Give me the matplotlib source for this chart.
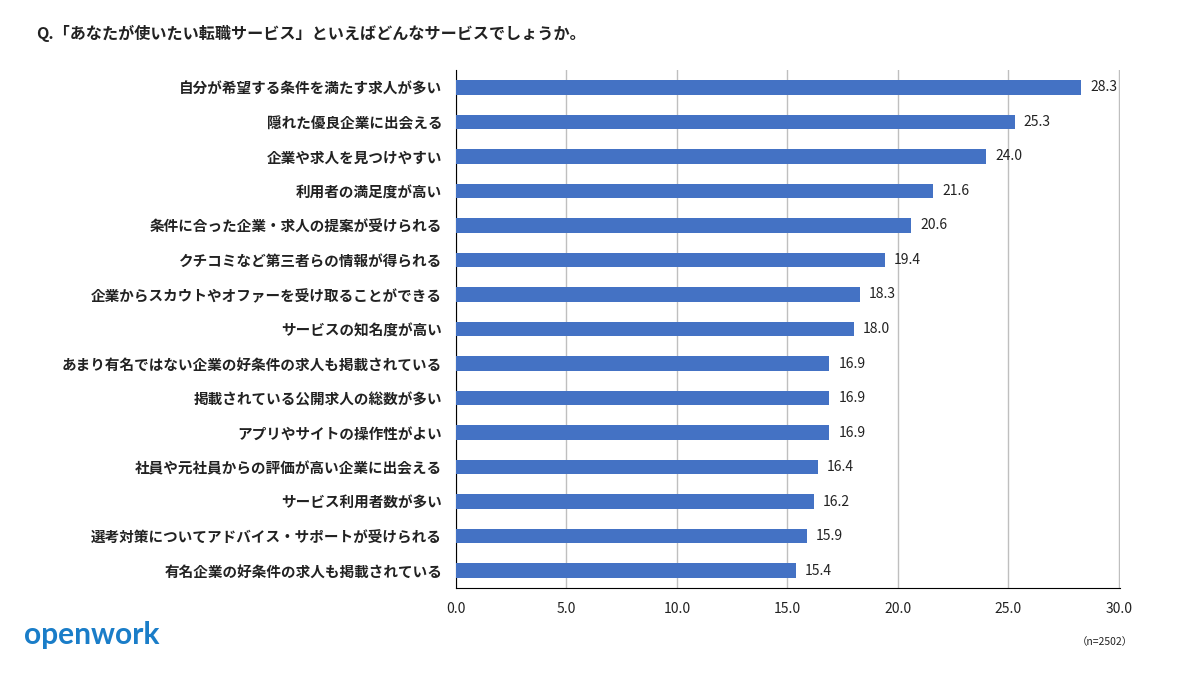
import matplotlib
matplotlib.use("Agg")
import matplotlib.pyplot as plt

plt.rcParams['font.family'] = ['Noto Sans CJK JP', 'DejaVu Sans']

labels = [
    "自分が希望する条件を満たす求人が多い",
    "隠れた優良企業に出会える",
    "企業や求人を見つけやすい",
    "利用者の満足度が高い",
    "条件に合った企業・求人の提案が受けられる",
    "クチコミなど第三者らの情報が得られる",
    "企業からスカウトやオファーを受け取ることができる",
    "サービスの知名度が高い",
    "あまり有名ではない企業の好条件の求人も掲載されている",
    "掲載されている公開求人の総数が多い",
    "アプリやサイトの操作性がよい",
    "社員や元社員からの評価が高い企業に出会える",
    "サービス利用者数が多い",
    "選考対策についてアドバイス・サポートが受けられる",
    "有名企業の好条件の求人も掲載されている",
]
values = [28.3, 25.3, 24.0, 21.6, 20.6, 19.4, 18.3, 18.0, 16.9, 16.9, 16.9, 16.4, 16.2, 15.9, 15.4]
xticks = [0, 5, 10, 15, 20, 25, 30]

fig = plt.figure(figsize=(11.77, 6.81), dpi=100)
ax = fig.add_axes([0.3874, 0.1366, 0.5642, 0.7606])

y = list(range(len(labels)))
ax.barh(y, values, height=0.42, color='#4472C4', zorder=3)
ax.set_ylim(len(labels) - 0.5, -0.5)
ax.set_xlim(0, 30.05)
ax.set_yticks(y)
ax.set_yticklabels(labels, fontsize=10.5, fontweight='bold', color='#222222')
ax.set_xticks(xticks)
ax.set_xticklabels([f"{t:.1f}" for t in xticks], fontsize=10, color='#222222')
ax.tick_params(axis='y', length=0, pad=10)
ax.tick_params(axis='x', length=0, pad=10)
ax.grid(axis='x', color='#BFBFBF', linewidth=1, zorder=0)
for s in ['top', 'right']:
    ax.spines[s].set_visible(False)
ax.spines['left'].set_color('black')
ax.spines['bottom'].set_color('black')

for yi, v in zip(y, values):
    ax.text(v + 0.4, yi, f"{v:.1f}", va='center', ha='left', fontsize=10, color='#222222')

fig.text(0.031, 0.951, "Q.「あなたが使いたい転職サービス」といえばどんなサービスでしょうか。",
         fontsize=11.6, fontweight='bold', color='#222222', va='center')
fig.text(0.020, 0.068, "openwork", fontsize=21.5, fontweight='bold', color='#1A7DC8',
         va='center', family=['Lato', 'DejaVu Sans'])
fig.text(0.9625, 0.058, "（n=2502）", fontsize=7.5, color='#222222', va='center', ha='right')

fig.savefig("out.png", dpi=100)
